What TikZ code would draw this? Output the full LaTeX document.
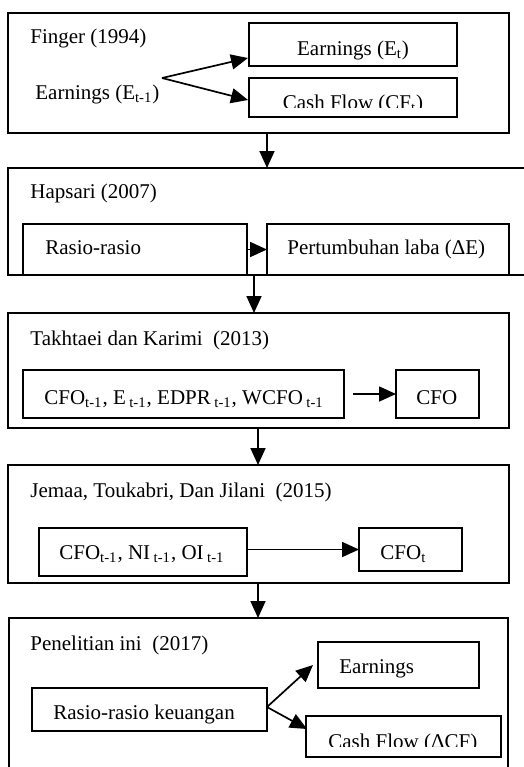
\documentclass[tikz,border=0pt]{standalone}
\usepackage{fontspec}
\setmainfont{Liberation Serif}
\usetikzlibrary{arrows.meta,fit}
\tikzset{
  boxs/.style={draw, line width=0.85pt, inner sep=0pt, outer sep=0pt},
  txt/.style={anchor=base west, inner sep=0pt, font=\fontsize{10.5}{12}\selectfont},
  ctxt/.style={anchor=base, inner sep=0pt, font=\fontsize{10.5}{12}\selectfont},
  arr/.style={line width=0.85pt, -{Triangle[length=8.5pt,width=7.5pt]}}
}
\begin{document}
\begin{tikzpicture}[x=0.5pt,y=-0.5pt]
\clip (0,0) rectangle (524,767);
\fill[white] (0,0) rectangle (524,767);

% ---------- Finger (1994)
\node[boxs, fit={(8,13) (509,133)}] (fin) {};
\node[boxs, fit={(249,23) (457,66)}] (et) {};
\node[boxs, fit={(249,78) (457,117)}] (cft) {};
\node[txt] (fint) at (30,43) {Finger (1994)};
\node[txt] (et1t) at (35,99) {Earnings (E\textsubscript{t-1})};
\node[ctxt] (ett) at (353,55) {Earnings (E\textsubscript{t})};
\begin{scope}
  \clip (249,78) rectangle (457,107);
  \node[ctxt] (cftt) at (353,109) {Cash Flow (CF\textsubscript{t})};
\end{scope}
\coordinate (fo) at (162,78);
\coordinate (fa) at (248,58);
\coordinate (fb) at (248,100);
\draw[arr] (fo) -- (fa);
\draw[arr] (fo) -- (fb);

% ---------- Hapsari (2007)
\node[boxs, fit={(8,168) (540,275)}] (hap) {};
\node[boxs, fit={(23,224) (247,275)}] (rr) {};
\node[boxs, fit={(267,224) (509,275)}] (pl) {};
\node[txt] (hapt) at (30,198) {Hapsari (2007)};
\node[txt] (rrt) at (45,254) {Rasio-rasio};
\node[txt] (plt) at (287,254) {Pertumbuhan laba (ΔE)};
\draw[arr] (rr.east) -- (pl.west);

% ---------- Takhtaei dan Karimi (2013)
\node[boxs, fit={(8,313) (509,428)}] (tak) {};
\node[boxs, fit={(23,370) (344,418)}] (cfo4) {};
\node[boxs, fit={(396,370) (479,418)}] (cfo) {};
\node[txt] (takt) at (30,345) {Takhtaei dan Karimi\ \ (2013)};
\node[txt] (cfo4t) at (44,404) {CFO\textsubscript{t-1}, E\,\textsubscript{t-1}, EDPR\,\textsubscript{t-1}, WCFO\,\textsubscript{t-1}};
\node[txt] (cfot1) at (416,404) {CFO};
\draw[arr] ([xshift=4.5pt]cfo4.east) -- (cfo.west);

% ---------- Jemaa, Toukabri, Dan Jilani (2015)
\node[boxs, fit={(8,465) (509,583)}] (jem) {};
\node[boxs, fit={(39,528) (247,576)}] (cfo3) {};
\node[boxs, fit={(359,528) (462,571)}] (cfott) {};
\node[txt] (jemt) at (30,497) {Jemaa, Toukabri, Dan Jilani\ \ (2015)};
\node[txt] (cfo3t) at (59,559) {CFO\textsubscript{t-1}, NI\,\textsubscript{t-1}, OI\,\textsubscript{t-1}};
\node[txt] (cfottt) at (380,559) {CFO\textsubscript{t}};
\draw[arr] (cfo3.east |- cfott.west) -- (cfott.west);

% ---------- Penelitian ini (2017)
\node[boxs, fit={(9,618) (508,800)}] (pen) {};
\node[boxs, fit={(318,642) (479,688)}] (earn) {};
\node[boxs, fit={(32,688) (267,731)}] (rrk) {};
\node[boxs, fit={(306,716) (501,757)}] (cfd) {};
\node[txt] (pent) at (30,650) {Penelitian ini\ \ (2017)};
\node[txt] (earnt) at (339,673) {Earnings};
\node[txt] (rrkt) at (53,719) {Rasio-rasio keuangan};
\begin{scope}
  \clip (306,716) rectangle (501,746);
  \node[txt] (cfdt) at (328,748) {Cash Flow (ΔCF)};
\end{scope}
\coordinate (po) at (267,707);
\coordinate (pa) at (313,665);
\coordinate (pb) at (307,729);
\draw[arr] (po) -- (pa);
\draw[arr] (po) -- (pb);

% ---------- vertical connectors
\coordinate (v1) at (267,0);
\coordinate (v2) at (254,0);
\coordinate (v3) at (258,0);
\draw[arr] (fin.south -| v1) -- (hap.north -| v1);
\draw[arr] (hap.south -| v2) -- (tak.north -| v2);
\draw[arr] (tak.south -| v3) -- (jem.north -| v3);
\draw[arr] (jem.south -| v3) -- (pen.north -| v3);
\end{tikzpicture}
\end{document}
